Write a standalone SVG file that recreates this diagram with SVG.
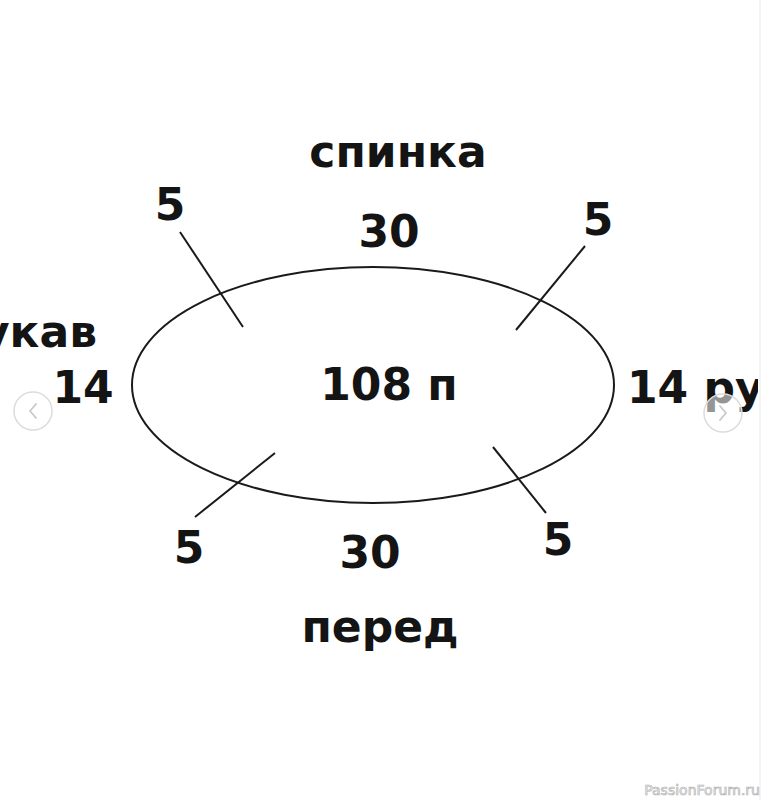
<svg xmlns="http://www.w3.org/2000/svg" width="765" height="800" viewBox="0 0 765 800">
<style>
.t{font-family:"DejaVu Sans",Verdana,sans-serif;font-weight:bold;font-size:44px;fill:#141414;text-anchor:middle}
.s{stroke:#1a1a1a;stroke-width:2;fill:none}
.nav{fill:#ffffff;fill-opacity:0.55;stroke:#dcdcdc;stroke-width:1.5}
.chev{fill:none;stroke:#c8c8c8;stroke-width:1.8;stroke-linecap:round;stroke-linejoin:round}
</style>
<defs>
<clipPath id="clipR"><rect x="0" y="0" width="758" height="800"/></clipPath>
</defs>
<rect width="765" height="800" fill="#ffffff"/>
<line x1="760" y1="0" x2="760" y2="800" stroke="#f0f0f0" stroke-width="1.5"/>
<g id="ring">
<ellipse class="s" cx="373" cy="385" rx="241" ry="118"/>
<text class="t" x="389" y="400">108 п</text>
</g>
<g id="connectors">
<line class="s" x1="180" y1="232" x2="243" y2="327"/>
<line class="s" x1="585" y1="246" x2="516" y2="330"/>
<line class="s" x1="275" y1="453" x2="195" y2="517"/>
<line class="s" x1="493" y1="447" x2="546" y2="513"/>
</g>
<g id="back">
<text class="t" x="398" y="167">спинка</text>
<text class="t" x="389" y="247">30</text>
</g>
<g id="front">
<text class="t" x="370" y="568">30</text>
<text class="t" x="380" y="642">перед</text>
</g>
<g id="raglan-tl"><text class="t" x="170" y="220">5</text></g>
<g id="raglan-tr"><text class="t" x="598" y="235">5</text></g>
<g id="raglan-bl"><text class="t" x="189" y="563">5</text></g>
<g id="raglan-br"><text class="t" x="558" y="555">5</text></g>
<g id="sleeve-left">
<text class="t" x="97" y="347" style="text-anchor:end">укав</text>
<text class="t" x="83" y="403">14</text>
</g>
<g id="sleeve-right" clip-path="url(#clipR)">
<text class="t" x="627" y="403" style="text-anchor:start">14 ру</text>
</g>
<g id="nav-left">
<circle class="nav" cx="33" cy="411" r="19"/>
<polyline class="chev" points="36,404 30,411 36,418"/>
</g>
<g id="nav-right">
<circle class="nav" cx="723" cy="413" r="19"/>
<polyline class="chev" points="720,406 726,413 720,420"/>
</g>
<text x="760" y="795" style="font-family:'DejaVu Sans',sans-serif;font-size:14px;fill:#ffffff;stroke:#b0b0b0;stroke-width:0.7;text-anchor:end">PassionForum.ru</text>
</svg>
